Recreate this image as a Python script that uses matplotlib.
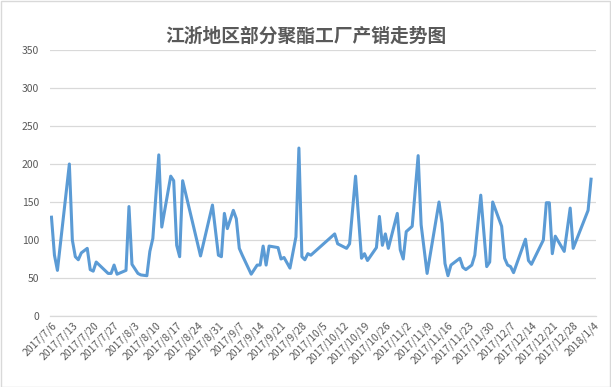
import matplotlib
matplotlib.use("Agg")
import matplotlib.pyplot as plt
import matplotlib.patches as mpatches
import numpy as np
import pandas as pd

plt.rcParams["font.family"] = ["Noto Sans CJK SC", "DejaVu Sans"]

# ── Data ─────────────────────────────────────────────────────────────────────
START_DATE = "2017-07-06"
END_DATE = "2018-01-04"

# days after START_DATE for each observation
DAY_OFFSETS = [
    0, 1, 2, 6, 7, 8, 9, 10, 12, 13, 14, 15, 19, 20, 21, 22, 25, 26, 27, 29,
    30, 32, 33, 34, 36, 37, 40, 41, 42, 43, 44, 50, 54, 56, 57, 58, 59, 61, 62, 63,
    64, 67, 69, 70, 71, 72, 73, 76, 77, 78, 80, 82, 83, 84, 85, 86, 87, 95, 96, 97,
    99, 100, 102, 104, 105, 106, 109, 110, 111, 112, 113, 116, 117, 118, 119, 121, 123, 124, 126, 130,
    131, 132, 133, 134, 137, 138, 139, 141, 142, 144, 146, 147, 148, 151, 152, 153, 154, 155, 159, 160,
    161, 165, 166, 167, 168, 169, 172, 174, 175, 180, 181,
]

SALES_RATE = [
    130, 80, 60, 200, 100, 78, 74, 83, 89, 61, 59, 71, 56, 56, 67, 55, 60, 144, 68, 56,
    54, 53, 85, 102, 212, 117, 184, 178, 93, 78, 178, 79, 146, 80, 78, 135, 115, 139, 128, 89,
    80, 55, 67, 67, 92, 67, 92, 90, 75, 77, 63, 104, 221, 78, 74, 82, 80, 108, 95, 93,
    89, 95, 184, 76, 82, 73, 90, 131, 93, 108, 89, 135, 87, 75, 111, 118, 211, 120, 56, 150,
    122, 69, 53, 67, 76, 64, 61, 67, 80, 159, 65, 71, 150, 118, 76, 67, 65, 57, 101, 73,
    68, 100, 149, 149, 82, 105, 85, 142, 89, 139, 180,
]

Y_TICKS = [0, 50, 100, 150, 200, 250, 300, 350]
TITLE = "江浙地区部分聚酯工厂产销走势图"

LINE_COLOR = "#5B9BD5"
GRID_COLOR = "#D9D9D9"
TEXT_COLOR = "#595959"

# ── Plot ─────────────────────────────────────────────────────────────────────
start = pd.Timestamp(START_DATE)
dates = start + pd.to_timedelta(DAY_OFFSETS, unit="D")
tick_dates = pd.date_range(START_DATE, END_DATE, freq="7D")
tick_labels = [f"{d.year}/{d.month}/{d.day}" for d in tick_dates]

fig = plt.figure(figsize=(6.11, 3.87), dpi=100)
ax = fig.add_axes([0.0818, 0.1835, 0.8937, 0.6873])

ax.plot(dates, SALES_RATE, color=LINE_COLOR, linewidth=2.2, solid_joinstyle="round")

ax.set_ylim(0, 350)
ax.set_yticks(Y_TICKS)
ax.set_xlim(start - pd.Timedelta(hours=12), pd.Timestamp(END_DATE) + pd.Timedelta(hours=16))
ax.set_xticks(tick_dates)
ax.set_xticklabels(tick_labels, rotation=45, ha="right", va="top", rotation_mode="anchor")

ax.grid(axis="y", color=GRID_COLOR, linewidth=0.9)
ax.set_axisbelow(True)
for side in ["top", "right", "left"]:
    ax.spines[side].set_visible(False)
ax.spines["bottom"].set_color(GRID_COLOR)
ax.spines["bottom"].set_linewidth(0.9)
ax.tick_params(axis="both", length=0, colors=TEXT_COLOR, labelsize=7.5)
ax.tick_params(axis="y", pad=8)
ax.tick_params(axis="x", pad=3)

fig.text(0.5, 0.907, TITLE, ha="center", va="center", fontsize=13.5,
         fontweight="bold", color=TEXT_COLOR)

fig.patches.append(mpatches.Rectangle((0.001, 0.001), 0.997, 0.997, transform=fig.transFigure,
                                      fill=False, edgecolor=GRID_COLOR, linewidth=1))

fig.savefig("out.png", dpi=100)
plt.close(fig)
